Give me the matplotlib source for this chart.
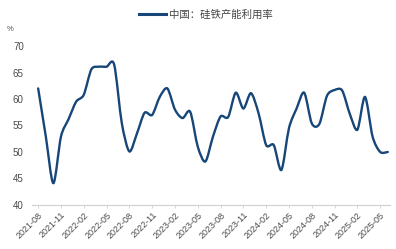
import numpy as np
import matplotlib
matplotlib.use("Agg")
import matplotlib.pyplot as plt
from matplotlib.path import Path
from matplotlib.patches import PathPatch
from matplotlib.lines import Line2D

plt.rcParams['font.family'] = ['Liberation Sans', 'Noto Sans CJK SC', 'DejaVu Sans']

# monthly ferrosilicon capacity utilisation, 2021-08 .. 2025-06 (%)
months = ["2021-08", "2021-09", "2021-10", "2021-11", "2021-12",
          "2022-01", "2022-02", "2022-03", "2022-04", "2022-05", "2022-06",
          "2022-07", "2022-08", "2022-09", "2022-10", "2022-11", "2022-12",
          "2023-01", "2023-02", "2023-03", "2023-04", "2023-05", "2023-06",
          "2023-07", "2023-08", "2023-09", "2023-10", "2023-11", "2023-12",
          "2024-01", "2024-02", "2024-03", "2024-04", "2024-05", "2024-06",
          "2024-07", "2024-08", "2024-09", "2024-10", "2024-11", "2024-12",
          "2025-01", "2025-02", "2025-03", "2025-04", "2025-05", "2025-06"]
utilisation = [62.0, 53.0, 44.1, 52.9, 56.2,
               59.5, 60.8, 65.6, 66.1, 66.1, 66.5,
               55.5, 50.1, 53.5, 57.4, 57.0, 60.4,
               62.0, 58.0, 56.4, 57.6, 51.0, 48.2,
               52.9, 56.7, 56.6, 61.2, 58.2, 61.1,
               57.3, 51.3, 51.3, 46.6, 54.5, 58.2,
               61.2, 55.4, 55.3, 60.6, 61.7, 61.6,
               57.2, 54.2, 60.4, 52.9, 50.0, 50.0]
tick_labels = months[0:46:3]
series_name = "中国：硅铁产能利用率"

line_color = "#174679"

fig = plt.figure(figsize=(3.96, 2.49), dpi=100)
ax = fig.add_axes([0.081, 0.177, 0.904, 0.638])

# smooth curve through the points (Catmull-Rom -> cubic Bezier), like Excel smoothed lines
x = np.arange(len(utilisation), dtype=float)
y = np.array(utilisation)
pts = np.column_stack([x, y])
verts = [pts[0]]
codes = [Path.MOVETO]
for i in range(len(pts) - 1):
    p0 = pts[i - 1] if i > 0 else pts[i]
    p1 = pts[i]
    p2 = pts[i + 1]
    p3 = pts[i + 2] if i + 2 < len(pts) else pts[i + 1]
    c1 = p1 + (p2 - p0) / 7.0
    c2 = p2 - (p3 - p1) / 7.0
    verts += [c1, c2, p2]
    codes += [Path.CURVE4] * 3
ax.add_patch(PathPatch(Path(verts, codes), fill=False, edgecolor=line_color,
                       lw=1.7, capstyle='round', joinstyle='round'))

ax.set_xlim(-0.8, 46.3)
ax.set_ylim(40, 70)
ax.set_yticks(range(40, 71, 5))
ax.set_xticks(range(0, 46, 3))
ax.set_xticklabels(tick_labels, rotation=45, ha='right', rotation_mode='anchor')

for side in ['top', 'right', 'left']:
    ax.spines[side].set_visible(False)
ax.spines['bottom'].set_color('#d0d0d0')
ax.spines['bottom'].set_linewidth(0.8)
ax.tick_params(axis='x', colors='#d0d0d0', labelcolor='#4a4a4a', labelsize=6.5,
               length=2, width=0.6, pad=2)
ax.tick_params(axis='y', length=0, labelcolor='#4a4a4a', labelsize=7, pad=6)

fig.text(0.018, 0.875, "%", fontsize=5.5, color='#555555')

handle = Line2D([], [], color=line_color, lw=2.2)
fig.legend([handle], [series_name], loc='upper center', bbox_to_anchor=(0.52, 1.0),
           frameon=False, fontsize=7.5, handlelength=2.6, handletextpad=0.3,
           labelcolor='#444444')

fig.savefig("out.png", dpi=100)
